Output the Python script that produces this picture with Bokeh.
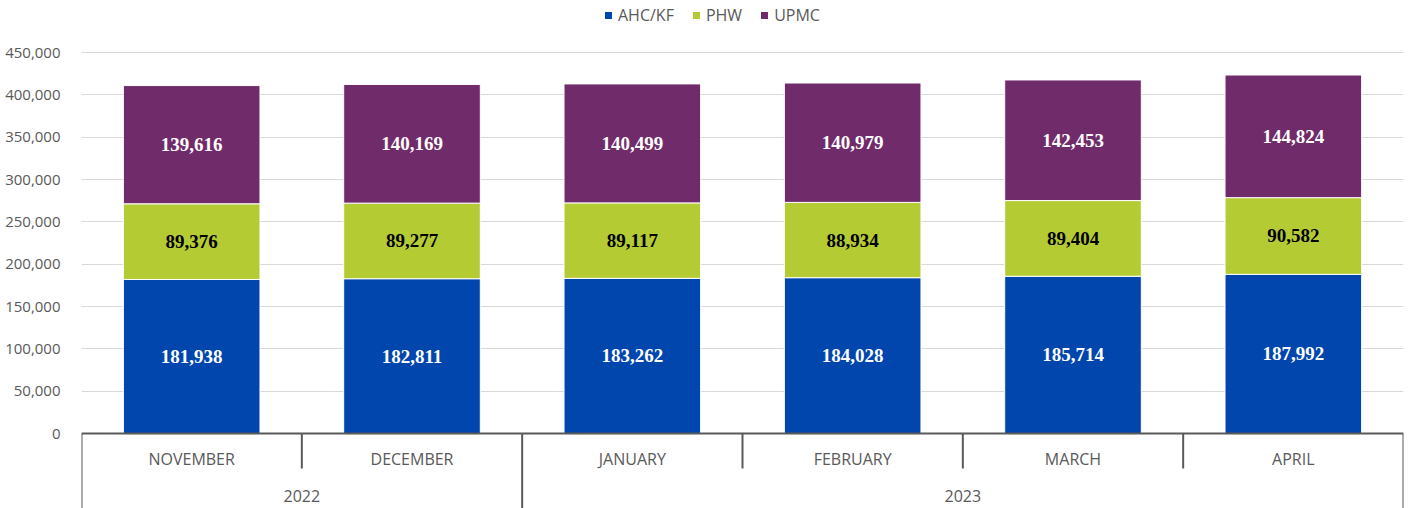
from bokeh.plotting import figure
from bokeh.models import ColumnDataSource, Range1d, FixedTicker, NumeralTickFormatter, Legend, LegendItem
from bokeh.core.properties import value
from bokeh.embed import file_html
from bokeh.resources import INLINE

months = ["NOVEMBER", "DECEMBER", "JANUARY", "FEBRUARY", "MARCH", "APRIL"]
years = ["2022", "2022", "2023", "2023", "2023", "2023"]
ahc = [181938, 182811, 183262, 184028, 185714, 187992]
phw = [89376, 89277, 89117, 88934, 89404, 90582]
upmc = [139616, 140169, 140499, 140979, 142453, 144824]
series_names = ["AHC/KF", "PHW", "UPMC"]
y_ticks = [0, 50000, 100000, 150000, 200000, 250000, 300000, 350000, 400000, 450000]

colors = ["#0046AD", "#B5CB33", "#702B6A"]
label_colors = ["white", "black", "white"]
axis_grey = "#595959"

# pixel geometry helpers
px_per_unit = 381 / 450000.0
y_bottom = -75 / px_per_unit
y_top = 433 / px_per_unit

n = len(months)
xs = [i + 0.5 for i in range(n)]

src = ColumnDataSource(dict(x=xs, month=months, year=years, ahc=ahc, phw=phw, upmc=upmc))

p = figure(width=1413, height=508, output_backend="svg", toolbar_location=None,
           x_range=Range1d(0, n), y_range=Range1d(y_bottom, y_top),
           min_border_left=81, min_border_right=10, min_border_top=0, min_border_bottom=0,
           x_axis_location=None)
p.outline_line_color = None
p.background_fill_color = "white"

# y axis
p.yaxis.ticker = FixedTicker(ticks=y_ticks)
p.yaxis.formatter = NumeralTickFormatter(format="0,0")
p.yaxis.axis_line_color = None
p.yaxis.major_tick_line_color = None
p.yaxis.minor_tick_line_color = None
p.yaxis.major_label_standoff = 15
p.yaxis.major_label_text_font = "Open Sans"
p.yaxis.major_label_text_font_size = "15px"
p.yaxis.major_label_text_color = axis_grey
p.xgrid.visible = False
p.ygrid.grid_line_color = "#D9D9D9"
p.ygrid.grid_line_width = 1

rs = p.vbar_stack(["ahc", "phw", "upmc"], x="x", width=0.62, color=colors,
                  line_color="white", line_width=1, source=src)

# data labels
stacks = [ahc, phw, upmc]
base = [0] * n
for k, vals in enumerate(stacks):
    centers = [b + v / 2 for b, v in zip(base, vals)]
    texts = [f"{v:,}" for v in vals]
    p.text(x=xs, y=centers, text=texts, text_align="center", text_baseline="middle",
           text_font=value("Liberation Serif"), text_font_style="bold",
           text_font_size="19px", text_color=label_colors[k])
    base = [b + v for b, v in zip(base, vals)]

# category axis (boxed, two levels)
p.segment(x0=[0], y0=[0], x1=[n], y1=[0], line_color=axis_grey, line_width=2)
long_x, short_x = [], []
for i in range(n + 1):
    if i == 0 or i == n or years[i] != years[i - 1]:
        long_x.append(i)
    else:
        short_x.append(i)
p.segment(x0=long_x, y0=[0] * len(long_x), x1=long_x, y1=[y_bottom] * len(long_x),
          line_color=axis_grey, line_width=2)
short_y = -35 / px_per_unit
p.segment(x0=short_x, y0=[0] * len(short_x), x1=short_x, y1=[short_y] * len(short_x),
          line_color=axis_grey, line_width=2)

p.text(x=xs, y=[-25 / px_per_unit] * n, text=months, text_align="center", text_baseline="middle",
       text_font=value("Open Sans"), text_font_size="16px", text_color=axis_grey)

uniq_years = []
for y in years:
    if y not in uniq_years:
        uniq_years.append(y)
yc = []
for y in uniq_years:
    idx = [i for i, yy in enumerate(years) if yy == y]
    yc.append((min(idx) + max(idx) + 1) / 2)
p.text(x=yc, y=[-62 / px_per_unit] * len(yc), text=uniq_years, text_align="center",
       text_baseline="middle", text_font=value("Open Sans"), text_font_size="16px",
       text_color=axis_grey)

legend = Legend(items=[LegendItem(label=nm, renderers=[r]) for nm, r in zip(series_names, rs)],
                orientation="horizontal", location=(522, 482))
legend.glyph_width = 10
legend.glyph_height = 10
legend.label_standoff = 5
legend.spacing = 17
legend.padding = 4
legend.margin = 0
legend.border_line_color = None
legend.label_text_font = "Open Sans"
legend.label_text_font_size = "16px"
legend.label_text_color = axis_grey
p.add_layout(legend)

open("out.html", "w").write(file_html(p, INLINE))
